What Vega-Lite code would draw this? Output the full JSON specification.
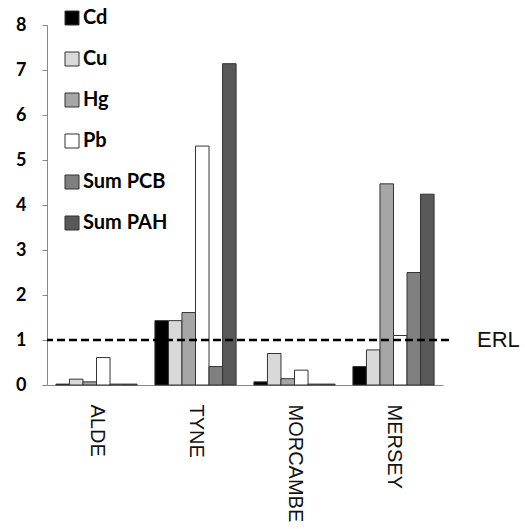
{
  "$schema": "https://vega.github.io/schema/vega-lite/v6.json",
  "width": 396,
  "height": 360,
  "autosize": {"type": "none"},
  "padding": {"left": 47, "top": 25, "right": 82, "bottom": 144},
  "background": "white",
  "config": {"view": {"stroke": null}, "font": "Liberation Sans"},
  "layer": [
    {
      "data": {
        "values": [
          {"site": "ALDE", "metal": "Cd", "value": 0.02},
          {"site": "ALDE", "metal": "Cu", "value": 0.13},
          {"site": "ALDE", "metal": "Hg", "value": 0.07},
          {"site": "ALDE", "metal": "Pb", "value": 0.61},
          {"site": "ALDE", "metal": "Sum PCB", "value": 0.02},
          {"site": "ALDE", "metal": "Sum PAH", "value": 0.02},
          {"site": "TYNE", "metal": "Cd", "value": 1.43},
          {"site": "TYNE", "metal": "Cu", "value": 1.43},
          {"site": "TYNE", "metal": "Hg", "value": 1.61},
          {"site": "TYNE", "metal": "Pb", "value": 5.31},
          {"site": "TYNE", "metal": "Sum PCB", "value": 0.41},
          {"site": "TYNE", "metal": "Sum PAH", "value": 7.14},
          {"site": "MORCAMBE", "metal": "Cd", "value": 0.07},
          {"site": "MORCAMBE", "metal": "Cu", "value": 0.7},
          {"site": "MORCAMBE", "metal": "Hg", "value": 0.14},
          {"site": "MORCAMBE", "metal": "Pb", "value": 0.33},
          {"site": "MORCAMBE", "metal": "Sum PCB", "value": 0.02},
          {"site": "MORCAMBE", "metal": "Sum PAH", "value": 0.02},
          {"site": "MERSEY", "metal": "Cd", "value": 0.41},
          {"site": "MERSEY", "metal": "Cu", "value": 0.78},
          {"site": "MERSEY", "metal": "Hg", "value": 4.47},
          {"site": "MERSEY", "metal": "Pb", "value": 1.1},
          {"site": "MERSEY", "metal": "Sum PCB", "value": 2.5},
          {"site": "MERSEY", "metal": "Sum PAH", "value": 4.24}
        ]
      },
      "mark": {"type": "bar", "stroke": "#333333", "strokeWidth": 1},
      "encoding": {
        "x": {
          "field": "site",
          "type": "nominal",
          "sort": ["ALDE", "TYNE", "MORCAMBE", "MERSEY"],
          "scale": {"paddingInner": 0.18, "paddingOuter": 0.09},
          "axis": {
            "title": null,
            "ticks": false,
            "labelAngle": 90,
            "labelPadding": 19,
            "labelFontSize": 20,
            "labelColor": "#111111",
            "labelFont": "Liberation Sans",
            "labelOverlap": false,
            "domainColor": "#888888"
          }
        },
        "xOffset": {
          "field": "metal",
          "sort": ["Cd", "Cu", "Hg", "Pb", "Sum PCB", "Sum PAH"],
          "scale": {"paddingInner": 0, "paddingOuter": 0}
        },
        "y": {
          "field": "value",
          "type": "quantitative",
          "scale": {"domain": [0, 8]},
          "axis": {
            "title": null,
            "grid": false,
            "values": [0, 1, 2, 3, 4, 5, 6, 7, 8],
            "tickSize": 5,
            "tickColor": "#888888",
            "domainColor": "#888888",
            "labelPadding": 16,
            "labelFont": "Lato",
            "labelFontWeight": "bold",
            "labelFontSize": 18,
            "labelColor": "#000000"
          }
        },
        "color": {
          "field": "metal",
          "type": "nominal",
          "scale": {
            "domain": ["Cd", "Cu", "Hg", "Pb", "Sum PCB", "Sum PAH"],
            "range": ["#000000", "#d9d9d9", "#a6a6a6", "#ffffff", "#808080", "#595959"]
          },
          "legend": {
            "title": null,
            "orient": "none",
            "legendX": 15,
            "legendY": -17,
            "padding": 0,
            "symbolType": "square",
            "symbolSize": 196,
            "symbolStrokeColor": "#333333",
            "symbolStrokeWidth": 1,
            "labelFont": "Lato",
            "labelFontWeight": "bold",
            "labelFontSize": 20,
            "labelColor": "#000000",
            "labelOffset": 1,
            "rowPadding": 21
          }
        }
      }
    },
    {
      "data": {"values": [{"erl": 1, "label": "ERL"}]},
      "mark": {"type": "rule", "strokeDash": [8, 4], "strokeWidth": 2.5, "color": "#000000", "xOffset": 6, "x2Offset": 27},
      "encoding": {"y": {"field": "erl", "type": "quantitative"}}
    },
    {
      "data": {"values": [{"erl": 1, "label": "ERL"}]},
      "mark": {"type": "text", "align": "left", "baseline": "middle", "dx": 34, "fontSize": 22, "font": "Liberation Sans", "color": "#111111"},
      "encoding": {
        "y": {"field": "erl", "type": "quantitative"},
        "x": {"value": "width"},
        "text": {"field": "label"}
      }
    }
  ]
}
